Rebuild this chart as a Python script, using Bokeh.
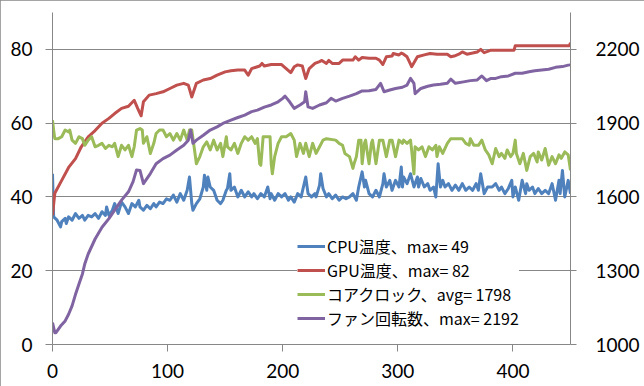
from bokeh.plotting import figure
from bokeh.models import Range1d, LinearAxis, FixedTicker, Legend, LegendItem
from bokeh.embed import file_html
from bokeh.resources import INLINE

# ---- data ----
gpu_x = [0, 2, 8, 14, 20, 25, 31, 37, 43, 49, 54, 60, 66, 71, 74, 77, 79, 84, 90, 96, 102, 108, 114, 118, 121, 125,
         131, 137, 143, 150, 155, 161, 167, 170, 173, 180, 182, 184, 190, 199, 203, 207, 210, 213, 217, 220, 223, 228,
         232, 234, 238, 240, 243, 249, 252, 261, 263, 266, 269, 275, 281, 284, 287, 290, 295, 296, 301, 303, 305, 308,
         311, 312, 317, 323, 328, 334, 343, 346, 349, 353, 356, 360, 365, 369, 372, 375, 381, 390, 401, 402, 449, 450]
gpu_temp = [35, 41, 44.5, 48, 50.4, 53.6, 56.3, 58, 60, 61.3, 62.6, 64, 64.6, 66.2, 64, 62, 65.8, 67.6, 68, 68.5, 69.4,
            70.3, 70.8, 70.3, 67.1, 70.8, 71.7, 72.1, 73, 73.9, 74.2, 74.4, 74.4, 73, 74.8, 75.5, 76.2, 75.5, 75.9,
            75.9, 74.8, 73.7, 75.3, 75.8, 75.5, 72.1, 74.8, 76.2, 76.7, 77, 76.2, 77, 76.2, 76.2, 77.1, 77.1, 78, 77.1,
            77.8, 77.6, 77.6, 77.1, 75.9, 78, 78.2, 78.9, 78.5, 79, 78.7, 78, 76, 75.3, 78, 78.5, 78.9, 78.7, 78.7, 78,
            78.2, 78.7, 79.3, 78.7, 79, 79.3, 80, 79.1, 79.8, 79.8, 79.8, 81, 81, 81.8]

cpu_x = [0, 1, 4, 7, 8, 11, 12, 14, 17, 20, 23, 26, 28, 31, 34, 37, 40, 43, 46, 47, 49, 52, 54, 57, 60, 63, 66, 69,
         72, 75, 76, 79, 82, 85, 88, 90, 93, 96, 99, 102, 105, 108, 111, 114, 117, 119, 121, 122, 125, 128, 131, 132,
         134, 135, 137, 140, 143, 146, 148, 151, 152, 154, 155, 158, 161, 164, 167, 170, 173, 175, 178, 181, 184, 187,
         189, 190, 193, 196, 199, 202, 205, 207, 210, 213, 216, 220, 222, 225, 228, 229, 232, 233, 235, 238, 240, 243,
         246, 249, 252, 255, 258, 261, 264, 266, 269, 271, 272, 275, 278, 281, 284, 287, 288, 290, 293, 295, 298, 301,
         303, 304, 305, 308, 311, 314, 317, 318, 320, 323, 326, 328, 331, 333, 335, 337, 339, 341, 344, 347, 350, 353,
         356, 359, 362, 365, 368, 370, 372, 375, 378, 382, 385, 388, 390, 393, 396, 399, 400, 402, 405, 408, 411, 412,
         414, 417, 419, 422, 425, 428, 431, 434, 437, 440, 441, 443, 445, 448, 450]
cpu_temp = [46.3, 34.6, 33.7, 31.9, 33.3, 34.2, 32.8, 34.6, 33.7, 35.5, 34.2, 35, 33.7, 35, 34.6, 35.5, 34.2, 36, 35,
            37.3, 35, 36.4, 38.2, 35.5, 38.6, 37.3, 35.5, 38.2, 37.3, 39.1, 37.3, 36.4, 37.7, 36.8, 38.2, 37.3, 38.6,
            38.2, 39.5, 39.1, 40.5, 38.6, 40.9, 39.1, 41.8, 45.4, 38.2, 36.4, 38.2, 39.5, 42.7, 45.9, 41.8, 45.4, 42.7,
            41.8, 39.1, 38.2, 39.1, 41.8, 42.3, 46.3, 41.8, 42.7, 40, 41.8, 40, 41.4, 40, 40.9, 39.5, 40.9, 40, 42.7,
            39.5, 40.9, 39.1, 40.9, 40, 40.9, 39.1, 40, 38.6, 40.9, 40, 45.4, 40.9, 40, 40.9, 40, 43.2, 46.3, 42.3, 40,
            40.9, 39.5, 40.5, 39.1, 40, 39.5, 40, 40.9, 39.1, 42.7, 46.8, 42.7, 44.5, 40.9, 40, 41.8, 40, 43.6, 46.3,
            42.7, 44.5, 41.8, 44.5, 42.7, 48.1, 42.7, 45.4, 43.6, 46.3, 42.7, 45.4, 42.7, 45, 42.7, 43.6, 41.8, 42.7,
            40, 49, 42.7, 44.5, 42.7, 43.6, 41.8, 43.2, 41.8, 43.6, 41.8, 42.7, 41.8, 43.6, 41.8, 46.3, 40.9, 42.7,
            42.7, 43.6, 41.8, 42.7, 40.9, 42.3, 44.5, 40, 42.7, 39.1, 44.5, 40.9, 43.6, 41.8, 42.7, 40.9, 42.3, 40.9,
            41.8, 40.9, 43.6, 39.1, 44.5, 40.9, 47.2, 40, 44.5, 40.9]

clock_x = [0, 1, 2, 5, 8, 11, 14, 15, 17, 20, 23, 26, 28, 31, 34, 37, 40, 43, 46, 49, 52, 54, 57, 60, 63, 66, 69, 71,
           73, 76, 78, 79, 82, 85, 88, 90, 93, 96, 99, 102, 105, 108, 111, 114, 117, 119, 121, 123, 125, 128, 131, 134,
           137, 140, 143, 146, 148, 151, 152, 155, 158, 161, 164, 167, 170, 173, 176, 178, 180, 181, 183, 186, 189, 190,
           191, 193, 196, 199, 203, 207, 210, 212, 215, 218, 220, 223, 226, 229, 232, 235, 238, 246, 249, 252, 254, 258,
           261, 262, 264, 266, 268, 269, 271, 272, 274, 275, 277, 278, 281, 284, 287, 290, 293, 295, 298, 301, 304, 305,
           308, 311, 312, 314, 315, 318, 321, 324, 327, 330, 333, 334, 336, 339, 343, 346, 352, 356, 359, 362, 363, 366,
           370, 373, 376, 379, 382, 385, 388, 390, 393, 395, 398, 400, 402, 403, 406, 409, 412, 415, 418, 421, 422, 425,
           428, 431, 434, 437, 440, 442, 445, 448, 450]
core_clock = [1912, 1872, 1837, 1837, 1845, 1872, 1864, 1872, 1831, 1818, 1845, 1837, 1810, 1831, 1845, 1804, 1810,
              1818, 1797, 1810, 1804, 1818, 1764, 1810, 1791, 1810, 1764, 1804, 1872, 1878, 1872, 1818, 1845, 1777,
              1818, 1858, 1872, 1872, 1845, 1858, 1831, 1858, 1831, 1872, 1831, 1872, 1872, 1804, 1735, 1764, 1804,
              1824, 1791, 1831, 1791, 1818, 1764, 1845, 1804, 1791, 1818, 1777, 1818, 1845, 1831, 1845, 1818, 1837,
              1735, 1729, 1845, 1845, 1845, 1735, 1694, 1764, 1818, 1845, 1845, 1858, 1831, 1764, 1818, 1777, 1818,
              1764, 1818, 1777, 1804, 1831, 1837, 1831, 1818, 1810, 1777, 1764, 1716, 1735, 1764, 1831, 1831, 1735,
              1818, 1831, 1764, 1735, 1818, 1831, 1735, 1831, 1831, 1764, 1831, 1831, 1764, 1831, 1818, 1831, 1818,
              1831, 1791, 1694, 1804, 1791, 1804, 1764, 1804, 1791, 1810, 1764, 1804, 1777, 1818, 1837, 1837, 1837,
              1818, 1810, 1837, 1810, 1810, 1831, 1791, 1771, 1735, 1797, 1764, 1777, 1757, 1791, 1764, 1777, 1831,
              1777, 1735, 1777, 1708, 1764, 1777, 1742, 1783, 1750, 1797, 1729, 1764, 1735, 1771, 1757, 1783, 1771,
              1708]

fan_x = [0, 2, 3, 7, 11, 14, 17, 20, 23, 26, 28, 31, 37, 43, 49, 54, 60, 66, 70, 73, 76, 79, 85, 90, 96, 102, 108,
         114, 118, 120, 122, 125, 131, 137, 143, 148, 155, 161, 167, 173, 178, 184, 190, 196, 200, 202, 206, 210, 215,
         219, 220, 222, 226, 232, 238, 242, 246, 252, 258, 264, 269, 275, 281, 285, 288, 293, 298, 304, 308, 311, 314,
         315, 320, 326, 331, 337, 343, 346, 350, 357, 363, 369, 373, 377, 381, 385, 390, 396, 402, 408, 414, 419, 425,
         431, 437, 443, 448, 450]
fan_speed = [1089, 1048, 1048, 1075, 1096, 1123, 1157, 1204, 1246, 1287, 1327, 1368, 1429, 1477, 1512, 1546, 1587,
             1621, 1662, 1710, 1708, 1654, 1695, 1735, 1756, 1770, 1791, 1810, 1831, 1872, 1818, 1831, 1851, 1872,
             1885, 1899, 1912, 1923, 1933, 1947, 1953, 1965, 1974, 1987, 2001, 2010, 1987, 1960, 1974, 1987, 2028,
             1966, 1960, 1974, 1983, 2001, 1990, 2001, 2010, 2020, 2031, 2032, 2037, 2062, 2028, 2035, 2041, 2046,
             2055, 2082, 2062, 2020, 2041, 2050, 2055, 2058, 2062, 2079, 2062, 2068, 2073, 2076, 2092, 2073, 2082,
             2082, 2089, 2092, 2103, 2103, 2109, 2113, 2116, 2119, 2127, 2130, 2136, 2137]

left_ticks = [0, 20, 40, 60, 80]
right_ticks = [1000, 1300, 1600, 1900, 2200]
x_ticks = [0, 100, 200, 300, 400]
labels = ["CPU温度、max= 49", "GPU温度、max= 82", "コアクロック、avg= 1798", "ファン回転数、max= 2192"]

# ---- styling ----
GRID = "#878787"
TICK_FONT = "Lato"
TICK_SIZE = "19px"

p = figure(width=644, height=386, output_backend="svg", toolbar_location=None,
           x_range=Range1d(0, 450), y_range=Range1d(0, 90),
           min_border_left=52, min_border_right=74, min_border_top=12, min_border_bottom=42)
p.outline_line_color = None
p.background_fill_color = "white"
p.border_fill_color = "white"
p.extra_y_ranges = {"r": Range1d(1000, 2350)}
# chart-area border (drawn as a CSS outline so it does not change the layout)
p.styles = {"outline": "1px solid #878787", "outline-offset": "-1px"}

r_cpu = p.line(cpu_x, cpu_temp, line_color="#4F81BD", line_width=3, line_join="round")
r_gpu = p.line(gpu_x, gpu_temp, line_color="#C0504D", line_width=3, line_join="round")
r_clk = p.line(clock_x, core_clock, line_color="#9BBB59", line_width=3, line_join="round", y_range_name="r")
r_fan = p.line(fan_x, fan_speed, line_color="#8064A2", line_width=3, line_join="round", y_range_name="r")

def style_axis(ax, standoff):
    ax.axis_line_color = GRID
    ax.major_tick_line_color = GRID
    ax.minor_tick_line_color = None
    ax.major_tick_out = 7
    ax.major_tick_in = 0
    ax.major_label_text_font = TICK_FONT
    ax.major_label_text_font_size = TICK_SIZE
    ax.major_label_text_color = "black"
    ax.major_label_standoff = standoff

p.xaxis.ticker = FixedTicker(ticks=x_ticks)
p.yaxis.ticker = FixedTicker(ticks=left_ticks)
style_axis(p.xaxis[0], 12)
style_axis(p.yaxis[0], 13)

rax = LinearAxis(y_range_name="r", ticker=FixedTicker(ticks=right_ticks))
style_axis(rax, 19)
rax.major_tick_out = 6
p.add_layout(rax, "right")

p.xgrid.visible = False
p.ygrid.grid_line_color = GRID
p.ygrid.ticker = FixedTicker(ticks=left_ticks)

legend = Legend(items=[LegendItem(label=labels[0], renderers=[r_cpu]),
                       LegendItem(label=labels[1], renderers=[r_gpu]),
                       LegendItem(label=labels[2], renderers=[r_clk]),
                       LegendItem(label=labels[3], renderers=[r_fan])],
                location=(245, 14), margin=0, padding=12, spacing=-2,
                glyph_width=28, glyph_height=18, label_height=18, label_standoff=2,
                label_text_font="Noto Sans CJK JP", label_text_font_size="16px",
                label_text_color="black", background_fill_color="white",
                background_fill_alpha=1.0, border_line_color=None)
p.add_layout(legend)

open("out.html", "w").write(file_html(p, INLINE))
